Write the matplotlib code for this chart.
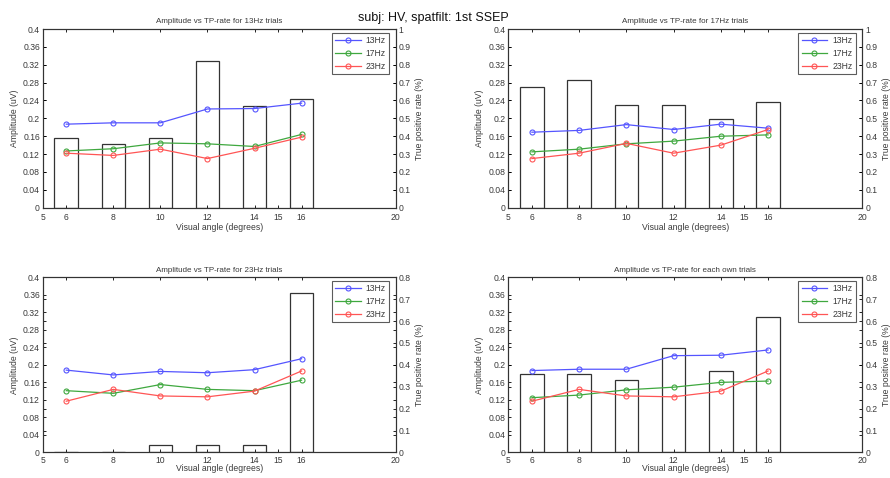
"""Amplitude vs TP-rate for each stimulation frequency, 2x2 plotyy style figure."""

import numpy as np
import matplotlib
matplotlib.use('Agg')
from matplotlib import pyplot as plt
from matplotlib.ticker import FormatStrFormatter

plt.rcParams['font.family'] = ['Liberation Sans', 'DejaVu Sans']

# visual angles (degrees)
angles = [6, 8, 10, 12, 14, 16]
x_ticks = [5, 6, 8, 10, 12, 14, 15, 16, 20]

# amplitude (uV) of the SSEP at each frequency, per trial set
amp_13_in_13 = [0.187, 0.190, 0.190, 0.221, 0.222, 0.234]
amp_17_in_13 = [0.127, 0.132, 0.145, 0.143, 0.137, 0.164]
amp_23_in_13 = [0.122, 0.117, 0.131, 0.110, 0.133, 0.158]

amp_13_in_17 = [0.169, 0.173, 0.186, 0.175, 0.187, 0.178]
amp_17_in_17 = [0.125, 0.131, 0.143, 0.149, 0.160, 0.163]
amp_23_in_17 = [0.110, 0.122, 0.144, 0.122, 0.140, 0.175]

amp_13_in_23 = [0.188, 0.177, 0.185, 0.182, 0.189, 0.214]
amp_17_in_23 = [0.141, 0.135, 0.155, 0.144, 0.141, 0.165]
amp_23_in_23 = [0.117, 0.144, 0.129, 0.127, 0.140, 0.186]

# true positive rate per trial set
tp_13 = [0.39, 0.355, 0.39, 0.82, 0.57, 0.61]
tp_17 = [0.675, 0.713, 0.573, 0.573, 0.497, 0.592]
tp_23 = [0, 0, 0.036, 0.036, 0.036, 0.73]
tp_own = [0.357, 0.357, 0.333, 0.477, 0.371, 0.62]

legend_labels = ['13Hz', '17Hz', '23Hz']
line_colors = ['#5555ff', '#3fa83f', '#ff5555']

panels = [
    ('Amplitude vs TP-rate for 13Hz trials',
     [amp_13_in_13, amp_17_in_13, amp_23_in_13], tp_13, 1.0),
    ('Amplitude vs TP-rate for 17Hz trials',
     [amp_13_in_17, amp_17_in_17, amp_23_in_17], tp_17, 1.0),
    ('Amplitude vs TP-rate for 23Hz trials',
     [amp_13_in_23, amp_17_in_23, amp_23_in_23], tp_23, 0.8),
    ('Amplitude vs TP-rate for each own trials',
     [amp_13_in_13, amp_17_in_17, amp_23_in_23], tp_own, 0.8),
]

# axes rectangles in figure fraction (left, bottom, width, height)
# bottom row is lifted a little so its x label stays inside the figure
positions = [
    [0.048, 0.5655, 0.3966, 0.3738],
    [0.5711, 0.5655, 0.398, 0.3738],
    [0.048, 0.0535, 0.3966, 0.3664],
    [0.5711, 0.0535, 0.398, 0.3664],
]
xlabel_pads = [1, 1, -0.5, -0.5]
xtick_pads = [3.5, 3.5, 2.5, 2.5]

text_col = '#3a3a3a'
small = 6.2

fig = plt.figure(figsize=(8.9, 4.78), dpi=100)
fig.text(0.487, 0.963, 'subj: HV, spatfilt: 1st SSEP', ha='center', va='center',
         fontsize=9, color='#111111')

for i, (title, amps, tp_rate, tp_max) in enumerate(panels):
    ax1 = fig.add_axes(positions[i])
    ax2 = ax1.twinx()

    # bars of TP-rate on the right axis, white with dark edge
    ax2.bar(angles, tp_rate, width=1, facecolor='none', edgecolor='#333333',
            linewidth=0.9)
    ax2.set_ylim(0, tp_max)
    ax2.set_yticks(np.arange(0, tp_max + 0.01, 0.1))
    ax2.yaxis.set_major_formatter(FormatStrFormatter('%g'))
    ax2.set_ylabel('True positive rate (%)', fontsize=small, color=text_col,
                   labelpad=3)

    # amplitude lines on the left axis
    for amp, lab, col in zip(amps, legend_labels, line_colors):
        ax1.plot(angles, amp, '-o', color=col, label=lab, linewidth=0.9,
                 markersize=3.6, markerfacecolor='none', markeredgewidth=0.8)
    ax1.set_zorder(ax2.get_zorder() + 1)
    ax1.patch.set_visible(False)
    ax1.set_xlim(5, 20)
    ax1.set_ylim(0, 0.4)
    ax1.set_xticks(x_ticks)
    ax1.set_yticks(np.arange(0, 0.41, 0.04))
    ax1.yaxis.set_major_formatter(FormatStrFormatter('%g'))
    ax1.set_xlabel('Visual angle (degrees)', fontsize=small, color=text_col,
                   labelpad=xlabel_pads[i])
    ax1.set_ylabel('Amplitude (uV)', fontsize=small, color=text_col, labelpad=3)
    ax1.set_title(title, fontsize=small - 0.4, color=text_col, pad=4)

    # MATLAB-like inward ticks on all sides
    ax1.tick_params(direction='in', length=2.5, width=0.6, labelsize=small,
                    labelcolor=text_col, pad=2, top=True)
    ax1.tick_params(axis='x', pad=xtick_pads[i])
    ax1.yaxis.set_ticks_position('both')
    ax1.tick_params(axis='y', labelleft=True, labelright=False)
    ax2.tick_params(direction='in', length=2.5, width=0.6, labelsize=small,
                    labelcolor=text_col, pad=2)
    ax2.yaxis.set_ticks_position('both')
    ax2.tick_params(axis='y', labelleft=False, labelright=True)
    for ax in (ax1, ax2):
        for sp in ax.spines.values():
            sp.set_color('#333333')
            sp.set_linewidth(0.8)

    leg = ax1.legend(loc='upper right', bbox_to_anchor=(0.981, 0.978),
                     fontsize=small, frameon=True, fancybox=False,
                     borderpad=0.35, labelspacing=0.45, handlelength=3.0,
                     handletextpad=0.6, borderaxespad=0)
    leg.get_frame().set_edgecolor('#333333')
    leg.get_frame().set_linewidth(0.8)
    for txt in leg.get_texts():
        txt.set_color(text_col)

fig.savefig('out.png', dpi=100)
